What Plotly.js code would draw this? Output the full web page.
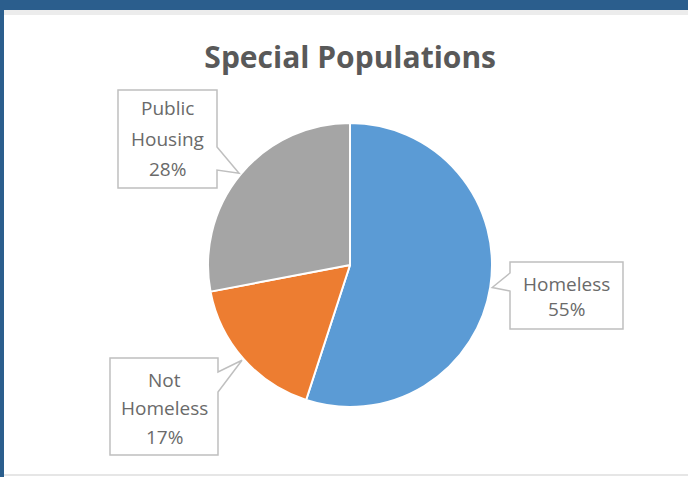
<!DOCTYPE html>
<html>
<head>
<meta charset="utf-8">
<script src="https://cdn.plot.ly/plotly-3.0.1.min.js"></script>
<style>
html,body{margin:0;padding:0;background:#ffffff;}
#chart{width:688px;height:477px;}
</style>
</head>
<body>
<div id="chart"></div>
<script>
// ---- data ----
const categories = ['Homeless', 'Not Homeless', 'Public Housing'];
const values = [55, 17, 28];
const sliceColors = ['#5b9bd5', '#ed7d31', '#a5a5a5'];
const labelWords = [['Homeless'], ['Not', 'Homeless'], ['Public', 'Housing']];

// ---- layout constants (pixels) ----
const W = 688, H = 477;
const CX = 350, CY = 265, R = 142;
const px = (x) => x / W;
const py = (y) => 1 - y / H;

// label boxes: rect, pointer base on a side, text centre and line positions
const boxes = [
  {x0: 510, x1: 623, y0: 262, y1: 329, side: 'left',  b0: 273, b1: 291, tx: 566, ty: [284, 309]},
  {x0: 110, x1: 218, y0: 358, y1: 455, side: 'right', b0: 372, b1: 392, tx: 164, ty: [380, 408, 437]},
  {x0: 118, x1: 217, y0: 90,  y1: 188, side: 'right', b0: 147, b1: 170, tx: 167, ty: [108, 139, 169]}
];

const total = values.reduce((a, b) => a + b, 0);
let cum = 0;
const shapes = [];
const annotations = [];

// frame: blue top bar and left bar
shapes.push({type: 'rect', xref: 'paper', yref: 'paper', x0: 0, x1: 1, y0: py(10), y1: 1,
  fillcolor: '#2b5e8d', line: {width: 0}, layer: 'above'});
shapes.push({type: 'rect', xref: 'paper', yref: 'paper', x0: 0, x1: px(4), y0: 0, y1: 1,
  fillcolor: '#2b5e8d', line: {width: 0}, layer: 'above'});
shapes.push({type: 'rect', xref: 'paper', yref: 'paper', x0: px(4), x1: 1, y0: py(15), y1: py(10),
  fillcolor: '#ececec', line: {width: 0}, layer: 'above'});
shapes.push({type: 'line', xref: 'paper', yref: 'paper', x0: px(4), x1: 1, y0: py(475), y1: py(475),
  line: {color: '#e6e6e6', width: 2}, layer: 'above'});

values.forEach((v, i) => {
  const mid = (cum + v / 2) / total;
  cum += v;
  const th = 2 * Math.PI * mid;
  const tipX = CX + (R + 2) * Math.sin(th);
  const tipY = CY - (R + 2) * Math.cos(th);
  const b = boxes[i];
  let path;
  const P = (x, y) => px(x).toFixed(5) + ',' + py(y).toFixed(5);
  if (b.side === 'left') {
    path = 'M' + P(b.x0, b.y0) + ' L' + P(b.x1, b.y0) + ' L' + P(b.x1, b.y1) + ' L' + P(b.x0, b.y1) +
      ' L' + P(b.x0, b.b1) + ' L' + P(tipX, tipY) + ' L' + P(b.x0, b.b0) + ' Z';
  } else {
    path = 'M' + P(b.x0, b.y0) + ' L' + P(b.x1, b.y0) + ' L' + P(b.x1, b.b0) + ' L' + P(tipX, tipY) +
      ' L' + P(b.x1, b.b1) + ' L' + P(b.x1, b.y1) + ' L' + P(b.x0, b.y1) + ' Z';
  }
  shapes.push({type: 'path', xref: 'paper', yref: 'paper', path: path,
    fillcolor: '#ffffff', line: {color: '#bfbfbf', width: 1.5}, layer: 'above'});
  const lines = labelWords[i].concat([Math.round(v / total * 100) + '%']);
  lines.forEach((t, k) => {
    annotations.push({xref: 'paper', yref: 'paper', x: px(b.tx), y: py(b.ty[k]),
      xanchor: 'center', yanchor: 'middle', showarrow: false, text: t,
      font: {family: 'Open Sans, sans-serif', size: 19, color: '#6a6a6a'}});
  });
});

const trace = {
  type: 'pie',
  labels: categories,
  values: values,
  sort: false,
  direction: 'clockwise',
  rotation: 0,
  textinfo: 'none',
  hoverinfo: 'label+percent',
  marker: {colors: sliceColors, line: {color: '#ffffff', width: 2}},
  domain: {x: [px(CX - R), px(CX + R)], y: [py(CY + R), py(CY - R)]},
  showlegend: false
};

const layout = {
  width: W, height: H,
  margin: {l: 0, r: 0, t: 0, b: 0},
  paper_bgcolor: '#ffffff',
  title: {text: '<b>Special Populations</b>', x: 0.509, xanchor: 'center', y: py(57), yanchor: 'middle',
    font: {family: 'Open Sans, sans-serif', size: 30, color: '#595959'}},
  shapes: shapes,
  annotations: annotations,
  showlegend: false
};

Plotly.newPlot('chart', [trace], layout, {displayModeBar: false, staticPlot: true});
</script>
</body>
</html>
